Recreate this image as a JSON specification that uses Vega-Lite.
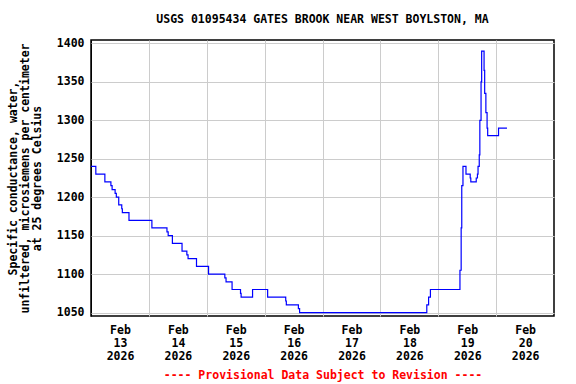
{
  "$schema": "https://vega.github.io/schema/vega-lite/v6.json",
  "width": 463,
  "height": 276,
  "autosize": {"type": "none"},
  "padding": {"left": 91, "top": 40, "right": 22, "bottom": 68},
  "background": "white",
  "config": {
    "font": "DejaVu Sans Mono",
    "view": {"stroke": "black", "strokeWidth": 1.5}
  },
  "title": {
    "text": "USGS 01095434 GATES BROOK NEAR WEST BOYLSTON, MA",
    "font": "DejaVu Sans Mono",
    "fontSize": 11.5,
    "fontWeight": "bold",
    "color": "black",
    "offset": 12
  },
  "data": {
    "values": [
      {"t": "2026-02-13T00:00", "v": 1240},
      {"t": "2026-02-13T02:00", "v": 1230},
      {"t": "2026-02-13T05:45", "v": 1220},
      {"t": "2026-02-13T08:15", "v": 1215},
      {"t": "2026-02-13T08:45", "v": 1210},
      {"t": "2026-02-13T10:00", "v": 1205},
      {"t": "2026-02-13T10:30", "v": 1200},
      {"t": "2026-02-13T11:30", "v": 1190},
      {"t": "2026-02-13T12:45", "v": 1185},
      {"t": "2026-02-13T13:00", "v": 1180},
      {"t": "2026-02-13T15:45", "v": 1170},
      {"t": "2026-02-14T01:15", "v": 1160},
      {"t": "2026-02-14T07:30", "v": 1155},
      {"t": "2026-02-14T08:00", "v": 1150},
      {"t": "2026-02-14T09:45", "v": 1140},
      {"t": "2026-02-14T13:45", "v": 1130},
      {"t": "2026-02-14T15:45", "v": 1125},
      {"t": "2026-02-14T16:15", "v": 1120},
      {"t": "2026-02-14T19:45", "v": 1110},
      {"t": "2026-02-15T00:45", "v": 1100},
      {"t": "2026-02-15T07:30", "v": 1095},
      {"t": "2026-02-15T08:00", "v": 1090},
      {"t": "2026-02-15T10:30", "v": 1080},
      {"t": "2026-02-15T14:00", "v": 1075},
      {"t": "2026-02-15T14:15", "v": 1070},
      {"t": "2026-02-15T19:00", "v": 1080},
      {"t": "2026-02-16T01:15", "v": 1070},
      {"t": "2026-02-16T08:45", "v": 1065},
      {"t": "2026-02-16T09:00", "v": 1060},
      {"t": "2026-02-16T14:00", "v": 1055},
      {"t": "2026-02-16T14:30", "v": 1050},
      {"t": "2026-02-18T19:15", "v": 1060},
      {"t": "2026-02-18T20:00", "v": 1070},
      {"t": "2026-02-18T20:45", "v": 1080},
      {"t": "2026-02-19T09:00", "v": 1105},
      {"t": "2026-02-19T09:30", "v": 1160},
      {"t": "2026-02-19T09:45", "v": 1215},
      {"t": "2026-02-19T10:15", "v": 1240},
      {"t": "2026-02-19T11:30", "v": 1230},
      {"t": "2026-02-19T13:15", "v": 1225},
      {"t": "2026-02-19T13:30", "v": 1220},
      {"t": "2026-02-19T15:45", "v": 1225},
      {"t": "2026-02-19T16:15", "v": 1230},
      {"t": "2026-02-19T16:30", "v": 1240},
      {"t": "2026-02-19T17:00", "v": 1255},
      {"t": "2026-02-19T17:15", "v": 1300},
      {"t": "2026-02-19T17:45", "v": 1350},
      {"t": "2026-02-19T18:00", "v": 1390},
      {"t": "2026-02-19T19:00", "v": 1365},
      {"t": "2026-02-19T19:15", "v": 1335},
      {"t": "2026-02-19T19:45", "v": 1310},
      {"t": "2026-02-19T20:15", "v": 1290},
      {"t": "2026-02-19T20:30", "v": 1280},
      {"t": "2026-02-20T01:00", "v": 1290},
      {"t": "2026-02-20T04:30", "v": 1290}
    ]
  },
  "mark": {"type": "line", "interpolate": "step-after", "color": "#0000ff", "strokeWidth": 1.2, "clip": true},
  "encoding": {
    "x": {
      "field": "t",
      "type": "temporal",
      "scale": {
        "domain": [
          {"year": 2026, "month": 2, "date": 13},
          {"year": 2026, "month": 2, "date": 21}
        ],
        "nice": false
      },
      "axis": {
        "values": [
          {"year": 2026, "month": 2, "date": 13},
          {"year": 2026, "month": 2, "date": 14},
          {"year": 2026, "month": 2, "date": 15},
          {"year": 2026, "month": 2, "date": 16},
          {"year": 2026, "month": 2, "date": 17},
          {"year": 2026, "month": 2, "date": 18},
          {"year": 2026, "month": 2, "date": 19},
          {"year": 2026, "month": 2, "date": 20}
        ],
        "labelExpr": "[timeFormat(datum.value, '%b'), timeFormat(datum.value, '%d'), timeFormat(datum.value, '%Y')]",
        "labelOffset": 29,
        "labelFlush": false,
        "labelOverlap": false,
        "labelBound": false,
        "labelFont": "DejaVu Sans Mono",
        "labelFontSize": 11.5,
        "labelFontWeight": "bold",
        "labelColor": "black",
        "labelLineHeight": 13,
        "labelPadding": 8,
        "ticks": false,
        "tickSize": 0,
        "domain": false,
        "grid": true,
        "gridColor": {"condition": {"test": "date(datum.value) == 13", "value": "black"}, "value": "#cccccc"},
        "gridWidth": 1,
        "title": "---- Provisional Data Subject to Revision ----",
        "titleFont": "DejaVu Sans Mono",
        "titleFontSize": 11.5,
        "titleFontWeight": "bold",
        "titleColor": "#ff0000",
        "titlePadding": 8
      }
    },
    "y": {
      "field": "v",
      "type": "quantitative",
      "scale": {"domain": [1045.5, 1404.5], "nice": false, "zero": false},
      "axis": {
        "values": [1050, 1100, 1150, 1200, 1250, 1300, 1350, 1400],
        "format": "d",
        "labelFont": "DejaVu Sans Mono",
        "labelFontSize": 11.5,
        "labelFontWeight": "bold",
        "labelColor": "black",
        "labelPadding": 7,
        "ticks": false,
        "tickSize": 0,
        "domain": false,
        "grid": true,
        "gridColor": "#cccccc",
        "gridWidth": 1,
        "title": ["Specific conductance, water,", "unfiltered, microsiemens per centimeter", "at 25 degrees Celsius"],
        "titleFont": "DejaVu Sans Mono",
        "titleFontSize": 11.5,
        "titleFontWeight": "bold",
        "titleColor": "black",
        "titleLineHeight": 12,
        "titlePadding": 14
      }
    }
  }
}
